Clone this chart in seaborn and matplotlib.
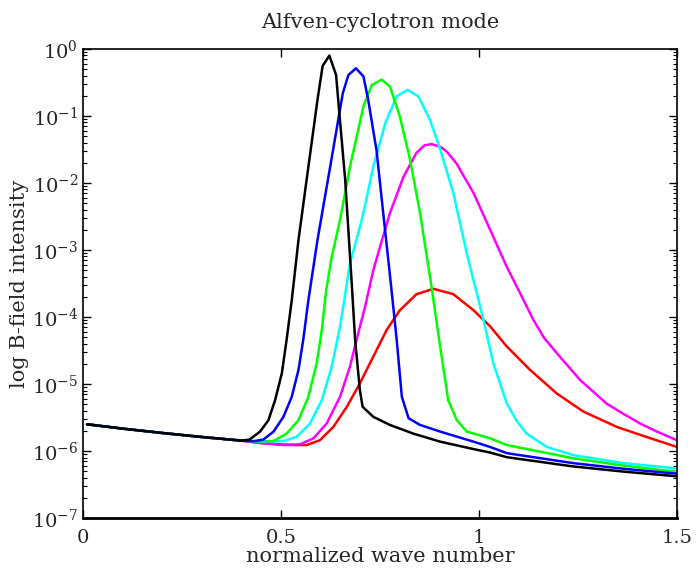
import pandas as pd
import seaborn as sns
import matplotlib
matplotlib.use("Agg")
import matplotlib.pyplot as plt
from matplotlib.ticker import LogLocator, FixedLocator, NullFormatter

# shared low-k part of every curve
base_k = [0.01, 0.1, 0.2, 0.3, 0.4]
base_B = [2.51e-6, 2.16e-6, 1.86e-6, 1.62e-6, 1.43e-6]

red_k = [0.447, 0.523, 0.565, 0.598, 0.632, 0.666, 0.699, 0.733, 0.767, 0.80, 0.842, 0.885,
         0.935, 0.986, 1.028, 1.07, 1.129, 1.196, 1.263, 1.348, 1.423, 1.5]
red_B = [1.32e-6, 1.23e-6, 1.23e-6, 1.45e-6, 2.29e-6, 4.57e-6, 1.02e-5, 2.57e-5, 6.46e-5, 1.26e-4, 2.19e-4, 2.63e-4,
         2.19e-4, 1.26e-4, 7.24e-5, 3.63e-5, 1.62e-5, 7.24e-6, 3.89e-6, 2.29e-6, 1.62e-6, 1.15e-6]

magenta_k = [0.447, 0.506, 0.548, 0.582, 0.615, 0.649, 0.674, 0.695, 0.712, 0.733, 0.755, 0.775, 0.809,
             0.842, 0.862, 0.88, 0.902, 0.918, 0.943, 0.986, 1.028, 1.07, 1.104, 1.137, 1.164, 1.196,
             1.255, 1.322, 1.364, 1.407, 1.449, 1.5]
magenta_B = [1.32e-6, 1.23e-6, 1.26e-6, 1.55e-6, 2.57e-6, 6.46e-6, 1.82e-5, 5.75e-5, 1.41e-4, 5.0e-4, 1.41e-3, 3.55e-3, 1.23e-2,
             2.82e-2, 3.63e-2, 3.8e-2, 3.47e-2, 2.95e-2, 1.95e-2, 7.08e-3, 2.0e-3, 5.6e-4, 2.24e-4, 9.1e-5, 4.9e-5, 2.9e-5,
             1.15e-5, 5.1e-6, 3.6e-6, 2.57e-6, 1.95e-6, 1.45e-6]

cyan_k = [0.46, 0.506, 0.539, 0.573, 0.603, 0.628, 0.649, 0.662, 0.674, 0.704, 0.733, 0.763, 0.792, 0.819,
          0.847, 0.876, 0.902, 0.935, 0.969, 1.011, 1.036, 1.07, 1.095, 1.12, 1.171, 1.238, 1.364, 1.5]
cyan_B = [1.38e-6, 1.41e-6, 1.62e-6, 2.57e-6, 5.75e-6, 1.82e-5, 7.24e-5, 2.2e-4, 6.3e-4, 2.82e-3, 1.74e-2, 7.76e-2, 0.195, 0.245,
          0.195, 8.7e-2, 3.16e-2, 7.08e-3, 8.9e-4, 9.1e-5, 2.04e-5, 5.13e-6, 2.82e-6, 1.82e-6, 1.15e-6, 8.7e-7, 6.6e-7, 5.5e-7]

green_k = [0.44, 0.481, 0.514, 0.544, 0.569, 0.59, 0.603, 0.614, 0.628, 0.649, 0.674, 0.708, 0.729, 0.754,
           0.775, 0.80, 0.826, 0.851, 0.88, 0.902, 0.922, 0.944, 0.969, 1.028, 1.07, 1.238, 1.37, 1.5]
green_B = [1.40e-6, 1.41e-6, 1.82e-6, 2.88e-6, 6.46e-6, 2.04e-5, 6.46e-5, 2.51e-4, 7.9e-4, 2.82e-3, 1.74e-2, 0.138, 0.288, 0.347,
           0.275, 9.77e-2, 2.19e-2, 3.55e-3, 2.82e-4, 3.55e-5, 5.75e-6, 2.88e-6, 1.95e-6, 1.55e-6, 1.23e-6, 7.8e-7, 6.0e-7, 4.9e-7]

blue_k = [0.43, 0.455, 0.481, 0.506, 0.527, 0.544, 0.556, 0.569, 0.592, 0.624, 0.656, 0.67, 0.689, 0.708,
          0.72, 0.741, 0.758, 0.779, 0.792, 0.805, 0.822, 0.851, 0.902, 0.986, 1.028, 1.07, 1.238, 1.37, 1.5]
blue_B = [1.40e-6, 1.48e-6, 1.95e-6, 3.24e-6, 6.46e-6, 1.62e-5, 4.57e-5, 1.78e-4, 1.41e-3, 1.74e-2, 0.219, 0.407, 0.513, 0.389,
          0.174, 3.09e-2, 3.55e-3, 2.51e-4, 4.57e-5, 6.46e-6, 3.09e-6, 2.45e-6, 1.95e-6, 1.38e-6, 1.15e-6, 9.3e-7, 6.6e-7, 5.4e-7, 4.6e-7]

black_k = [0.42, 0.447, 0.468, 0.485, 0.502, 0.514, 0.527, 0.544, 0.569, 0.592, 0.605, 0.622, 0.639, 0.645,
           0.662, 0.678, 0.687, 0.699, 0.706, 0.733, 0.775, 0.834, 0.902, 0.986, 1.028, 1.07, 1.237, 1.37, 1.5]
black_B = [1.48e-6, 1.95e-6, 2.88e-6, 5.75e-6, 1.45e-5, 4.57e-5, 1.78e-4, 1.41e-3, 1.74e-2, 0.174, 0.557, 0.794, 0.407, 0.155,
           1.10e-2, 3.5e-4, 4.57e-5, 8.13e-6, 4.57e-6, 3.24e-6, 2.45e-6, 1.82e-6, 1.38e-6, 1.07e-6, 9.5e-7, 8.1e-7, 5.9e-7, 4.9e-7, 4.2e-7]

curves = {
    'red': (red_k, red_B),
    'magenta': (magenta_k, magenta_B),
    'cyan': (cyan_k, cyan_B),
    'lime': (green_k, green_B),
    'blue': (blue_k, blue_B),
    'black': (black_k, black_B),
}

frames = []
for name, (k, b) in curves.items():
    frames.append(pd.DataFrame({'k': base_k + k, 'B': base_B + b, 'mode': name}))
df = pd.concat(frames, ignore_index=True)

sns.set_style("ticks")
plt.rcParams['font.family'] = ['DejaVu Serif']
plt.rcParams['mathtext.fontset'] = 'dejavuserif'
plt.rcParams['xtick.direction'] = 'in'
plt.rcParams['ytick.direction'] = 'in'

fig = plt.figure(figsize=(6.98, 5.75), dpi=100)
ax = fig.add_axes([0.119, 0.099, 0.851, 0.816])

palette = {n: n for n in curves}
sns.lineplot(data=df, x='k', y='B', hue='mode', palette=palette, hue_order=list(curves),
             estimator=None, linewidth=1.8, legend=False, ax=ax)

ax.set_yscale('log')
ax.set_xlim(0, 1.5)
ax.set_ylim(1e-7, 1)
ax.xaxis.set_major_locator(FixedLocator([0, 0.5, 1, 1.5]))
ax.set_xticklabels(['0', '0.5', '1', '1.5'])
ax.yaxis.set_major_locator(LogLocator(base=10, numticks=10))
ax.yaxis.set_minor_locator(LogLocator(base=10, subs=range(2, 10), numticks=10))
ax.yaxis.set_minor_formatter(NullFormatter())
ax.tick_params(which='both', top=True, right=True, labelsize=14, color='black')
ax.tick_params(which='major', length=6, width=1)
ax.tick_params(which='minor', length=3, width=0.8)
ax.tick_params(axis='x', pad=8)
for s in ax.spines.values():
    s.set_color('black')
    s.set_linewidth(1.2)
ax.spines['bottom'].set_linewidth(2.0)

ax.set_title('Alfven-cyclotron mode', fontsize=15, pad=15)
ax.set_xlabel('normalized wave number', fontsize=15, labelpad=0)
ax.set_ylabel('log B-field intensity', fontsize=15, labelpad=2)

fig.savefig('out.png', dpi=100)
